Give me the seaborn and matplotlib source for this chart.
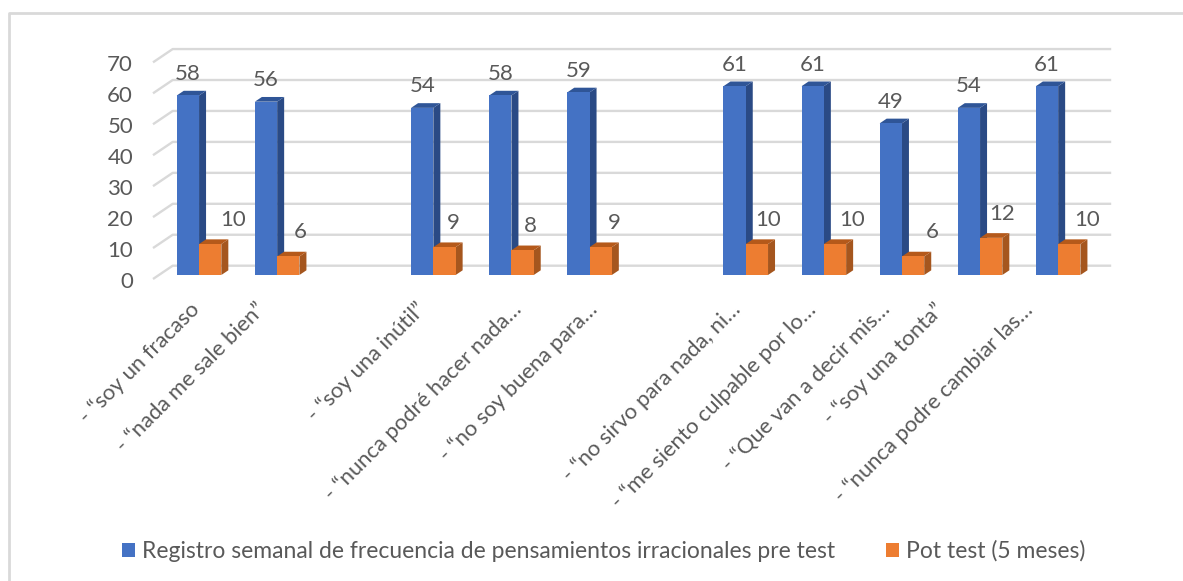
import matplotlib
matplotlib.use("Agg")
import matplotlib.pyplot as plt
from matplotlib.lines import Line2D
from matplotlib.patches import Polygon
from matplotlib.transforms import ScaledTranslation
import pandas as pd
import seaborn as sns

categories = ["- “soy un fracaso", "- “nada me sale bien”", "",
              "- “soy una inútil”", "- “nunca podré hacer nada…", "- “no soy buena para…", " ",
              "- “no sirvo para nada, ni…", "- “me siento culpable por lo…", "- “Que van a decir mis…",
              "- “soy una tonta”", "- “nunca podre cambiar las…"]
filled = [c for c in categories if c.strip()]
pre_values = [58, 56, 54, 58, 59, 61, 61, 49, 54, 61]
post_values = [10, 6, 9, 8, 9, 10, 10, 6, 12, 10]
pre_name = "Registro semanal de frecuencia de pensamientos irracionales pre test"
post_name = "Pot test (5 meses)"

W, H = 1183, 581
X0, SLOT = 160, 78.1          # left edge of the plot and width of a category slot, px
Y0, PX_PER_UNIT = 275, 3.095  # baseline and vertical scale, px
TEXT = "#595959"
GRID = "#D9D9D9"

sns.set_theme(style="white")
plt.rcParams["font.family"] = ["Lato", "DejaVu Sans"]

df = pd.DataFrame({
    "cat": filled * 2,
    "serie": [pre_name] * len(filled) + [post_name] * len(filled),
    "valor": pre_values + post_values,
})

fig = plt.figure(figsize=(W / 100, H / 100), dpi=100, facecolor="white")
y_top = Y0 - 70 * PX_PER_UNIT
ax = fig.add_axes([X0 / W, 1 - Y0 / H, 12 * SLOT / W, (Y0 - y_top) / H])
ax.patch.set_alpha(0)

sns.barplot(data=df, x="cat", y="valor", hue="serie", order=categories,
            hue_order=[pre_name, post_name], palette=["#4472C4", "#ED7D31"],
            width=44.5 / 78, gap=0, saturation=1, linewidth=0, ax=ax, zorder=3)

ax.set_xlim(-0.5, 11.5)
ax.set_ylim(0, 70)
ax.set_xlabel("")
ax.set_ylabel("")
for s in ax.spines.values():
    s.set_visible(False)

# Walls of the pseudo-3D box: a diagonal stub at the left and a line along the back
ux, uy = 1 / SLOT, 1 / PX_PER_UNIT
for v in range(0, 71, 10):
    ax.plot([-0.5 - 7 * ux, -0.5 + 12.7 * ux, 11.5 + 14 * ux],
            [v - 4 * uy, v + 9.3 * uy, v + 9.3 * uy],
            color=GRID, lw=1.7, clip_on=False, zorder=1, solid_capstyle="butt")

# Side and top faces of every bar
DX, DY = 7 * ux, 4.7 * uy
shades = [("#2A4A85", "#2F5597"), ("#A5561E", "#B5591A")]
for container, (side, top), base_z in zip(ax.containers, shades, (2.5, 3.5)):
    for bar in container:
        x0, x1, h = bar.get_x(), bar.get_x() + bar.get_width(), bar.get_height()
        ax.add_patch(Polygon([(x1, 0), (x1 + DX, DY), (x1 + DX, h + DY), (x1, h)],
                             facecolor=side, edgecolor="none", clip_on=False, zorder=base_z))
        ax.add_patch(Polygon([(x0, h), (x0 + DX, h + DY), (x1 + DX, h + DY), (x1, h)],
                             facecolor=top, edgecolor="none", clip_on=False, zorder=base_z))
for bar in ax.containers[1]:
    bar.set_zorder(3.6)

# Value labels, with the horizontal nudges of the post-test row
post_nudge = [23, 12, 9, 8, 14, 11, 17, 19, 11, 18]
for bar, v in zip(ax.containers[0], pre_values):
    ax.annotate(str(v), (bar.get_x() + bar.get_width() / 2, v), xytext=(0, 21.5 * 0.72),
                textcoords="offset points", ha="center", va="center",
                color=TEXT, fontsize=16, zorder=6)
for bar, v, n in zip(ax.containers[1], post_values, post_nudge):
    ax.annotate(str(v), (bar.get_x() + bar.get_width() / 2, v), xytext=(n * 0.72, 24 * 0.72),
                textcoords="offset points", ha="center", va="center",
                color=TEXT, fontsize=16, zorder=6)

# Axis text
ax.set_yticks(range(0, 71, 10))
ax.tick_params(axis="y", length=0, pad=19.4, labelsize=16, labelcolor=TEXT)
shift = ScaledTranslation(0, -4.5 / 100, fig.dpi_scale_trans)
for lab in ax.get_yticklabels():
    lab.set_transform(lab.get_transform() + shift)

# The long category labels sit left of their slot by varying amounts
label_nudge = [-10, -22, 0, -18, 0, -2, 0, -15, -18, -22, -47, -36]
ax.set_xticks(range(len(categories)))
ax.set_xticklabels(categories, rotation=45, ha="right", va="top", rotation_mode="anchor")
ax.tick_params(axis="x", length=0, pad=17.5, labelsize=15.8, labelcolor=TEXT)
for lab, n in zip(ax.get_xticklabels(), label_nudge):
    lab.set_transform(lab.get_transform() + ScaledTranslation(n / 100, 0, fig.dpi_scale_trans))

# Legend below the plot
handles, labels = ax.get_legend_handles_labels()
ax.legend(handles, labels, loc="center left", bbox_to_anchor=(122 / W, 1 - 551 / H),
          bbox_transform=fig.transFigure, ncol=2, frameon=False, fontsize=16.5,
          labelcolor=TEXT, handlelength=0.58, handleheight=0.58, handletextpad=0.3,
          columnspacing=2.2, borderpad=0, borderaxespad=0)

# Thin frame around the top and left of the figure
fig.add_artist(Line2D([9 / W, 9 / W, 1], [0, 1 - 13 / H, 1 - 13 / H],
                      color=GRID, lw=2, transform=fig.transFigure))

fig.savefig("out.png", dpi=100, facecolor="white")
